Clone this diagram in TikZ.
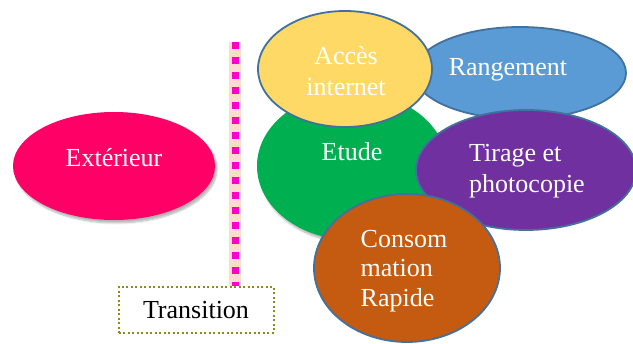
\documentclass[tikz,border=0pt]{standalone}
\usepackage{fontspec}
\setmainfont{Liberation Serif}
\usetikzlibrary{shadows.blur}
\definecolor{cpink}{HTML}{FF0066}
\definecolor{cgreen}{HTML}{00B050}
\definecolor{cyellow}{HTML}{FFD966}
\definecolor{cblue}{HTML}{5B9BD5}
\definecolor{cpurple}{HTML}{7030A0}
\definecolor{cbrown}{HTML}{C55A11}
\definecolor{cborder}{HTML}{41719C}
\definecolor{cpeach}{HTML}{FBD3BF}
\definecolor{cdash}{HTML}{FF00CC}
\definecolor{colive}{HTML}{8B8B1A}
\tikzset{
  bordered/.style={draw=cborder, line width=1.8pt},
  shad/.style={blur shadow={shadow blur steps=6, shadow xshift=2pt, shadow yshift=-3pt, shadow opacity=30}},
  lbl/.style={text=white, font=\fontsize{26}{31}\selectfont, inner sep=0pt}
}
\begin{document}
\begin{tikzpicture}[x=1pt,y=-1pt]
\useasboundingbox (0,0) rectangle (633,344);
% exterior
\fill[cpink, shad] (114,166) ellipse [x radius=101, y radius=54];
\node[lbl] (ext) at (114,158) {Extérieur};
% transition line
\coordinate (ltop) at (235,42);
\coordinate (lbot) at (235,286);
\draw[cpeach, line width=12pt, opacity=0.8] (ltop) -- (lbot);
\draw[cdash, line width=7pt, dash pattern=on 7pt off 8pt] (ltop) -- (lbot);
% transition box
\node[draw=colive, line width=2pt, dash pattern=on 2pt off 2.5pt, minimum width=155pt, minimum height=46pt,
  font=\fontsize{26}{31}\selectfont, inner sep=0pt] (trans) at (196,310) {Transition};
% green
\fill[cgreen, shad] (352,166) ellipse [x radius=95, y radius=74];
\node[lbl] (etude) at (352,152) {Etude};
% blue
\filldraw[cblue, bordered] (520,73) ellipse [x radius=106, y radius=46];
\node[lbl] (rang) at (508,70) {Rangement};
% purple
\filldraw[cpurple, bordered] (526,170) ellipse [x radius=110, y radius=60];
\node[lbl, align=left] (tir) at (527,171) {Tirage et\\photocopie};
% yellow
\filldraw[cyellow, bordered] (345,69) ellipse [x radius=87, y radius=58];
\node[lbl, align=center] (acc) at (346,71) {Accès\\internet};
% brown
\filldraw[cbrown, bordered] (407,268) ellipse [x radius=93, y radius=74];
\node[lbl, align=left, font=\fontsize{26}{29.5}\selectfont] (cons) at (404,271) {Consom\\mation\\Rapide};
\end{tikzpicture}
\end{document}
